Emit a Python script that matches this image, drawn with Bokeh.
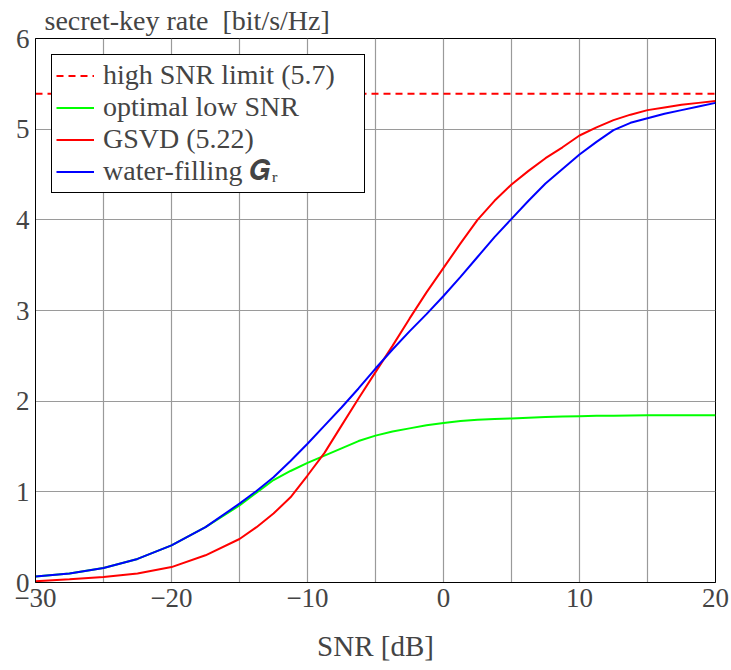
from bokeh.plotting import figure
from bokeh.models import FixedTicker, Range1d, Legend, LegendItem
from bokeh.embed import file_html
from bokeh.resources import INLINE

# ---- data ----
snr_db = [-30, -27.5, -25, -22.5, -20, -17.5,
          -15, -13.75, -12.5, -11.25, -10, -8.75, -7.5, -6.25, -5, -3.75, -2.5, -1.25,
          0, 1.25, 2.5, 3.75, 5, 6.25, 7.5, 8.75, 10, 11.25, 12.5, 13.75, 15, 16.25,
          17.5, 18.75, 20]
water_filling = [0.065, 0.10, 0.16, 0.26, 0.41, 0.61,
                 0.87, 1.01, 1.16, 1.34, 1.53, 1.73, 1.93, 2.14, 2.36, 2.57, 2.77, 2.96,
                 3.16, 3.37, 3.59, 3.81, 4.01, 4.21, 4.40, 4.56, 4.72, 4.86, 4.99, 5.07,
                 5.12, 5.17, 5.21, 5.25, 5.29]
gsvd = [0.015, 0.035, 0.06, 0.10, 0.17, 0.30,
        0.48, 0.61, 0.76, 0.94, 1.18, 1.43, 1.73, 2.03, 2.32, 2.61, 2.91, 3.20,
        3.47, 3.74, 4.00, 4.21, 4.39, 4.54, 4.68, 4.80, 4.93, 5.02, 5.10, 5.16,
        5.21, 5.24, 5.27, 5.29, 5.31]
optimal_low_snr = [0.065, 0.10, 0.16, 0.26, 0.41, 0.61,
                   0.85, 0.99, 1.13, 1.23, 1.32, 1.40, 1.48, 1.56, 1.62, 1.665, 1.70, 1.735,
                   1.76, 1.78, 1.795, 1.803, 1.81, 1.818, 1.825, 1.83, 1.835, 1.838, 1.84,
                   1.843, 1.845, 1.845, 1.845, 1.845, 1.845]
high_snr_limit = 5.39

x_tick_values = [-30, -20, -10, 0, 10, 20]
x_tick_labels = ["\u221230", "\u221220", "\u221210", "0", "10", "20"]
x_minor_values = [-25, -15, -5, 5, 15]
y_tick_values = [0, 1, 2, 3, 4, 5, 6]

series_labels = ["high SNR limit (5.7)", "optimal low SNR", "GSVD (5.22)",
                 "water-filling \U0001D46E\u1D63"]

FONT = "Liberation Serif"
FS = "27px"

p = figure(width=731, height=670,
           x_range=Range1d(snr_db[0], snr_db[-1]), y_range=Range1d(0, 6),
           output_backend="svg", toolbar_location=None,
           min_border_left=35, min_border_right=16,
           min_border_top=38, min_border_bottom=88)

p.title.text = "secret-key rate\u2002[bit/s/Hz]"
p.title.text_font = FONT
p.title.text_font_size = "28px"
p.title.text_font_style = "normal"
p.title.align = "left"
p.title.offset = 9
p.title.standoff = 5

# axes
p.xaxis.ticker = FixedTicker(ticks=x_tick_values, minor_ticks=x_minor_values)
p.xaxis.major_label_overrides = {v: l for v, l in zip(x_tick_values, x_tick_labels)}
p.yaxis.ticker = FixedTicker(ticks=y_tick_values)
for ax in (p.xaxis, p.yaxis):
    ax.major_label_text_font = FONT
    ax.major_label_text_font_size = FS
    ax.major_tick_in = 0
    ax.major_tick_out = 0
    ax.minor_tick_in = 0
    ax.minor_tick_out = 0
    ax.axis_line_color = "black"
    ax.axis_line_width = 1
    ax.major_label_standoff = 6
p.xaxis.axis_label = "SNR [dB]"
p.xaxis.axis_label_text_font = FONT
p.xaxis.axis_label_text_font_size = "29px"
p.xaxis.axis_label_text_font_style = "normal"
p.xaxis.axis_label_standoff = 20

p.outline_line_color = "black"
p.outline_line_width = 1
p.outline_line_alpha = 1

grid_color = "#9a9a9a"
p.xgrid.grid_line_color = grid_color
p.xgrid.minor_grid_line_color = grid_color
p.xgrid.grid_line_width = 1.2
p.xgrid.minor_grid_line_width = 1.2
p.ygrid.grid_line_color = grid_color
p.ygrid.grid_line_width = 1.2

# series
r_lim = p.line([snr_db[0], snr_db[-1]], [high_snr_limit, high_snr_limit],
               line_color="#ff0000", line_width=2, line_dash="7 5")
r_low = p.line(snr_db, optimal_low_snr, line_color="#00ff00", line_width=2)
r_gsvd = p.line(snr_db, gsvd, line_color="#ff0000", line_width=2)
r_wf = p.line(snr_db, water_filling, line_color="#0000ff", line_width=2)

legend = Legend(items=[LegendItem(label=series_labels[0], renderers=[r_lim]),
                       LegendItem(label=series_labels[1], renderers=[r_low]),
                       LegendItem(label=series_labels[2], renderers=[r_gsvd]),
                       LegendItem(label=series_labels[3], renderers=[r_wf])],
                location="top_left")
legend.margin = 16
legend.padding = 4
legend.spacing = 0
legend.glyph_width = 38
legend.glyph_height = 31
legend.label_height = 31
legend.label_width = 257
legend.label_standoff = 9
legend.label_text_font = FONT
legend.label_text_font_size = "28px"
legend.border_line_color = "black"
legend.border_line_width = 1
legend.border_line_alpha = 1
legend.background_fill_alpha = 1
p.add_layout(legend)

open("out.html", "w").write(file_html(p, INLINE))
